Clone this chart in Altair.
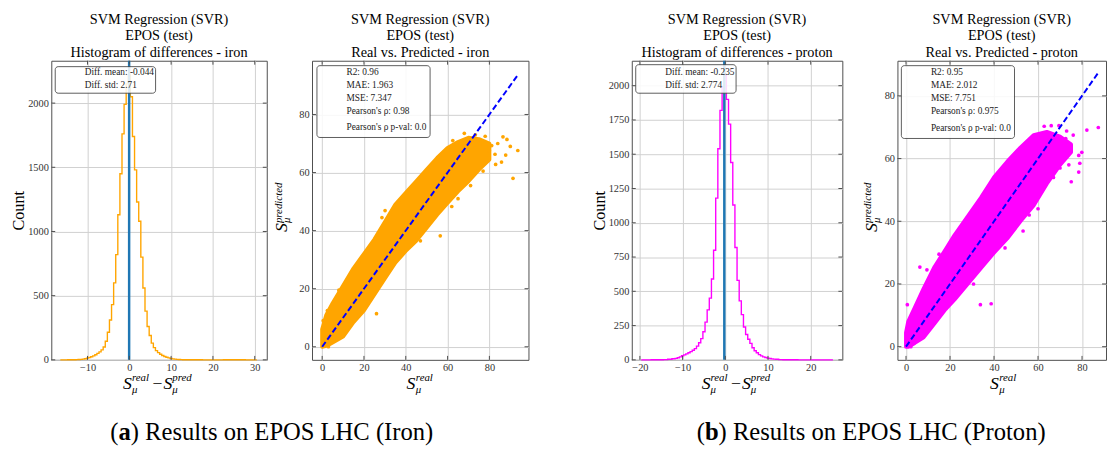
import altair as alt
import pandas as pd

SERIF = "Liberation Serif"
FRAME = "#4d4d4d"
GRID = "#d0d0d0"
LABEL = "#333333"
ORANGE = "#FFA500"
MAGENTA = "#FF00FF"
MEANBLUE = "#1f77b4"
DIAG = "#0000FF"

# ---------------- data ----------------
# Histogram of differences (bin centres / counts)
iron_hist_x = [-16.5, -13, -12.5, -12, -11.5, -11, -10.5, -10, -9.5, -9, -8.5, -8, -7.5, -7,
               -6.5, -6, -5.5, -5, -4.5, -4, -3.5, -3, -2.5, -2, -1.5, -1, -0.5, 0, 0.5, 1,
               1.5, 2, 2.5, 3, 3.5, 4, 4.5, 5, 5.5, 6, 6.5, 7, 7.5, 8, 8.5, 9, 9.5, 10, 10.5,
               11, 11.5, 12, 12.5, 13, 15, 20, 25, 30.5]
iron_hist_count = [0, 1, 2, 3, 4, 6, 9, 13, 18, 24, 31, 40, 50, 62,
                   78, 100, 145, 215, 310, 430, 600, 820, 1130, 1450, 1760, 1990, 2150, 2219, 2050, 1740,
                   1480, 1230, 1080, 800, 560, 380, 260, 190, 130, 95, 72, 56, 44, 34, 26, 20, 15, 11, 8,
                   6, 4, 3, 2, 1, 1, 0, 1, 0]
proton_hist_x = [-19.7, -15, -14, -13, -12, -11.5, -11, -10.5, -10, -9.5, -9, -8.5, -8, -7.5, -7,
                 -6.5, -6, -5.5, -5, -4.5, -4, -3.5, -3, -2.5, -2, -1.5, -1, -0.5, 0, 0.5, 1, 1.5,
                 2, 2.5, 3, 3.5, 4, 4.5, 5, 5.5, 6, 6.5, 7, 7.5, 8, 8.5, 9, 9.5, 10, 10.5, 11, 11.5,
                 12, 13, 14, 20, 25.2]
proton_hist_count = [0, 1, 2, 4, 8, 11, 15, 22, 30, 36, 44, 52, 60, 70, 82,
                     100, 125, 155, 205, 275, 365, 450, 590, 800, 1180, 1540, 1820, 1990, 2078, 1900, 1720, 1440,
                     1130, 820, 580, 430, 330, 240, 185, 150, 120, 88, 66, 52, 38, 29, 22, 17, 13, 10, 7, 5,
                     4, 2, 1, 0, 0]
iron_diff_mean = -0.044
proton_diff_mean = -0.235

# Real vs predicted: dense cloud outline (real, low, high) and sparse points
iron_band_x = [0, 2, 5, 10, 15, 20, 25, 30, 35, 40, 45, 50, 55, 60, 65, 70, 75, 80]
iron_band_lo = [0, 0.3, 1.5, 3.5, 8.5, 12.5, 18, 23.5, 29, 33, 36.5, 41, 45.5, 49.5, 53.5, 57, 61, 64.5]
iron_band_hi = [6, 11, 15, 21, 27, 32, 37, 43, 49, 53, 57, 61, 65, 68.5, 70.5, 72, 71.5, 70]
iron_pts_x = [26, 56.5, 30.1, 28.6, 91.3, 93.6, 88.4, 85.8, 82.7, 81.1, 78, 73.3, 86.5, 84, 90,
              83, 77, 71, 62, 47, 2.5, 0.5, 8, 3, 65, 80, 75.5, 87.8, 68, 62.5]
iron_pts_y = [11.4, 38.2, 46.9, 44.5, 58, 67.6, 71.4, 63.6, 66.3, 69.3, 72.5, 73, 72.3, 70, 69,
              62.8, 60.5, 55.5, 48.3, 36.5, 12.5, 9, 19.5, 0, 51, 67.5, 69.5, 66, 73.5, 71]
proton_band_x = [0, 1, 4, 8, 13, 18, 22, 28, 34, 40, 46, 52, 58, 64, 70, 75]
proton_band_lo = [0, 0, 1.2, 3, 7.5, 12, 15, 20, 25, 30, 34.5, 40, 45, 52, 58, 62]
proton_band_hi = [4.5, 8, 12.5, 18.5, 25.5, 31, 35.5, 41.5, 47.5, 54, 59, 63.5, 67.5, 68.5, 67, 64.5]
proton_pts_x = [0.6, 6.3, 33.8, 38.7, 53.2, 75.1, 78.5, 78.5, 79.9, 82.2, 87.4, 69.5, 62.8, 72.6,
                76, 74, 67, 60, 9.5, 15, 45, 56, 70, 66, 2.2, 30.7, 79, 73]
proton_pts_y = [13.4, 25.4, 13.4, 13.7, 36.9, 52.6, 55.7, 61, 62, 69.1, 69.9, 70.5, 70.3, 66.4,
                67.5, 58, 54, 44, 24.5, 29.5, 31.5, 42, 57, 70.5, 0, 20, 58.5, 68.8]
iron_diag = [0, 94]
proton_diag = [0, 87.3]

# ticks
iron_hist_xticks = [-10, 0, 10, 20, 30]
iron_hist_yticks = [0, 500, 1000, 1500, 2000]
proton_hist_xticks = [-20, -10, 0, 10, 20]
proton_hist_yticks = [0, 250, 500, 750, 1000, 1250, 1500, 1750, 2000]
scatter_ticks = [0, 20, 40, 60, 80]

# texts
title_top = ["SVM Regression (SVR)", "EPOS (test)"]
iron_hist_stats = ["Diff. mean: -0.044", "Diff. std: 2.71"]
proton_hist_stats = ["Diff. mean: -0.235", "Diff. std: 2.774"]
iron_stats = ["R2: 0.96", "MAE: 1.963", "MSE: 7.347", "Pearson's ρ: 0.98", "Pearson's ρ p-val: 0.0"]
proton_stats = ["R2: 0.95", "MAE: 2.012", "MSE: 7.751", "Pearson's ρ: 0.975", "Pearson's ρ p-val: 0.0"]
caption_a = ["(", "a", ") Results on EPOS LHC (Iron)"]
caption_b = ["(", "b", ") Results on EPOS LHC (Proton)"]

# ---------------- helpers ----------------
H = 304
ONE = pd.DataFrame({"k": [0]})
TITLE_BASELINES = [-37.5, -20.75, -4]


def sc(dom):
    return alt.Scale(domain=dom, nice=False, zero=False)


def ax(values, **kw):
    base = dict(values=values, format="d", grid=True, gridColor=GRID, gridWidth=1,
                ticks=False, domain=False, labelFont=SERIF, labelFontSize=10.5,
                labelColor=LABEL, labelPadding=3, labelFlush=False, labelOverlap=False)
    base.update(kw)
    if "title" not in base:
        base["title"] = None
    return alt.Axis(**base)


def inward_ticks(xt, yt, xs, ys, xa, ya, W):
    L = 4
    dx = pd.DataFrame({"t": xt})
    dy = pd.DataFrame({"t": yt})
    out = []
    for a, b in [(H, H - L), (0, L)]:
        out.append(alt.Chart(dx).mark_rule(color=FRAME, strokeWidth=1).encode(
            x=alt.X("t:Q", scale=xs, axis=xa), y=alt.value(a), y2=alt.value(b)))
    for a, b in [(0, L), (W, W - L)]:
        out.append(alt.Chart(dy).mark_rule(color=FRAME, strokeWidth=1).encode(
            y=alt.Y("t:Q", scale=ys, axis=ya), x=alt.value(a), x2=alt.value(b)))
    return out


def txt(s, x, y, size, angle=0, align="left", color="black", **kw):
    props = dict(text=s, font=SERIF, fontSize=size, align=align, baseline="alphabetic",
                 color=color, **kw)
    if angle:
        props["angle"] = angle
    return alt.Chart(ONE).mark_text(**props).encode(x=alt.value(x), y=alt.value(y))


def box(x1, x2, y1, y2):
    return alt.Chart(ONE).mark_rect(fill="white", fillOpacity=0.85, stroke="#333333",
                                    strokeWidth=0.8, cornerRadius=3).encode(
        x=alt.value(x1), x2=alt.value(x2), y=alt.value(y1), y2=alt.value(y2))


def stats_layers(lines, x, ys):
    return [txt(s, x, y, 9.5, color="#222222") for s, y in zip(lines, ys)]


def title_layers(last, W):
    return [txt(s, W / 2, y, 14.5, align="center")
            for s, y in zip(title_top + [last], TITLE_BASELINES)]


def hist_xlabel(x0):
    it = dict(fontStyle="italic")
    return [txt("S", x0, 334, 18, **it), txt("real", x0 + 9, 326, 11, **it),
            txt("μ", x0 + 9, 338, 11, **it), txt("−", x0 + 35, 334, 18, align="center"),
            txt("S", x0 + 41, 334, 18, **it), txt("pred", x0 + 50, 326, 11, **it),
            txt("μ", x0 + 50, 338, 11, **it)]


def sc_xlabel(x0):
    it = dict(fontStyle="italic")
    return [txt("S", x0, 334, 18, **it), txt("real", x0 + 9.5, 326, 11, **it),
            txt("μ", x0 + 9.5, 338, 11, **it)]


def sc_ylabel(xb):
    it = dict(fontStyle="italic")
    return [txt("S", xb, 174, 18, angle=270, **it),
            txt("predicted", xb - 6, 165, 11, angle=270, **it),
            txt("μ", xb + 3, 165, 11, angle=270, **it)]


def caption(parts, x0, bold_w):
    return [txt(parts[0], x0, 385, 25), txt(parts[1], x0 + 8.3, 385, 25, fontWeight="bold"),
            txt(parts[2], x0 + 8.3 + bold_w, 385, 25)]


def hist_panel(hx, hc, mean, color, xdom, ydom, W, xt, yt, stats, boxpos, sy, lab_x0,
               last_title, cap, cap_x0, cap_bw):
    xs, ys = sc(xdom), sc(ydom)
    xa = ax(xt)
    ya = ax(yt, title="Count", titleFont=SERIF, titleFontSize=16.5, titleFontWeight="normal",
            titleColor="black", titleX=-33, titleY=H / 2, titleBaseline="middle")
    df = pd.DataFrame({"x": hx, "c": hc})
    line = alt.Chart(df).mark_line(interpolate="step", color=color, strokeWidth=1.4).encode(
        x=alt.X("x:Q", scale=xs, axis=xa), y=alt.Y("c:Q", scale=ys, axis=ya))
    mrule = alt.Chart(pd.DataFrame({"m": [mean]})).mark_rule(color=MEANBLUE, strokeWidth=2.5).encode(
        x=alt.X("m:Q", scale=xs, axis=xa), y=alt.value(0), y2=alt.value(H))
    layers = [line, mrule] + inward_ticks(xt, yt, xs, ys, xa, ya, W) + [box(*boxpos)]
    layers += stats_layers(stats, boxpos[0] + 30, sy)
    layers += hist_xlabel(lab_x0) + caption(cap, cap_x0, cap_bw) + title_layers(last_title, W)
    return alt.layer(*layers).properties(width=W, height=H)


def scatter_panel(bx, blo, bhi, px, py, diag, color, xdom, ydom, W, stats, boxpos, sy,
                  lab_x0, ylab_x, last_title):
    xs, ys = sc(xdom), sc(ydom)
    xa = ax(scatter_ticks)
    ya = ax(scatter_ticks)
    band = pd.DataFrame({"x": bx, "lo": blo, "hi": bhi})
    area = alt.Chart(band).mark_area(color=color, stroke=color, strokeWidth=4,
                                     strokeJoin="round", opacity=1).encode(
        x=alt.X("x:Q", scale=xs, axis=xa), y=alt.Y("lo:Q", scale=ys, axis=ya), y2="hi:Q")
    pts = alt.Chart(pd.DataFrame({"x": px, "y": py})).mark_circle(size=14, color=color,
                                                                   opacity=1).encode(
        x=alt.X("x:Q", scale=xs, axis=xa), y=alt.Y("y:Q", scale=ys, axis=ya))
    dl = alt.Chart(pd.DataFrame({"x": diag, "y": diag})).mark_line(
        color=DIAG, strokeWidth=2, strokeDash=[6, 3]).encode(
        x=alt.X("x:Q", scale=xs, axis=xa), y=alt.Y("y:Q", scale=ys, axis=ya))
    layers = [area, pts, dl] + inward_ticks(scatter_ticks, scatter_ticks, xs, ys, xa, ya, W)
    layers += [box(*boxpos)] + stats_layers(stats, boxpos[0] + 30, sy)
    layers += sc_xlabel(lab_x0) + sc_ylabel(ylab_x) + title_layers(last_title, W)
    return alt.layer(*layers).properties(width=W, height=H)


def spacer(w):
    return alt.Chart(ONE).mark_point(opacity=0).encode(
        x=alt.value(0), y=alt.value(0)).properties(
        width=w, height=H, view=alt.ViewBackground(stroke="transparent"))


p1 = hist_panel(iron_hist_x, iron_hist_count, iron_diff_mean, ORANGE, [-18.66, 32.87], [0, 2330],
                219, iron_hist_xticks, iron_hist_yticks, iron_hist_stats, (4, 106, 6, 33),
                [14.5, 28], 73, "Histogram of differences - iron", caption_a, 60, 12.5)
p2 = scatter_panel(iron_band_x, iron_band_lo, iron_band_hi, iron_pts_x, iron_pts_y, iron_diag,
                   ORANGE, [-4.85, 98.7], [-4.5, 98.5], 220, iron_stats, (5, 120, 5, 78),
                   [14.7, 28, 40.7, 54, 70.5], 96, -25, "Real vs. Predicted - iron")
p3 = hist_panel(proton_hist_x, proton_hist_count, proton_diff_mean, MAGENTA, [-21.9, 27.4],
                [0, 2182], 214, proton_hist_xticks, proton_hist_yticks, proton_hist_stats,
                (4, 106, 4, 33), [14, 27.5], 71, "Histogram of differences - proton",
                caption_b, 66, 13.9)
p4 = scatter_panel(proton_band_x, proton_band_lo, proton_band_hi, proton_pts_x, proton_pts_y,
                   proton_diag, MAGENTA, [-3.9, 90.9], [-4.2, 91.2], 212, proton_stats,
                   (4, 119, 5, 79), [14.7, 28, 40.7, 54, 71], 94, -21,
                   "Real vs. Predicted - proton")

chart = alt.hconcat(p1, spacer(46), p2, spacer(105), p3, spacer(56), p4,
                    spacing=0, bounds="flush").configure_view(
    stroke=FRAME, strokeWidth=1).properties(
    padding={"left": 2, "top": 0, "right": 0, "bottom": 0})

chart.save("out.html", embed_options={"renderer": "svg", "actions": False})
